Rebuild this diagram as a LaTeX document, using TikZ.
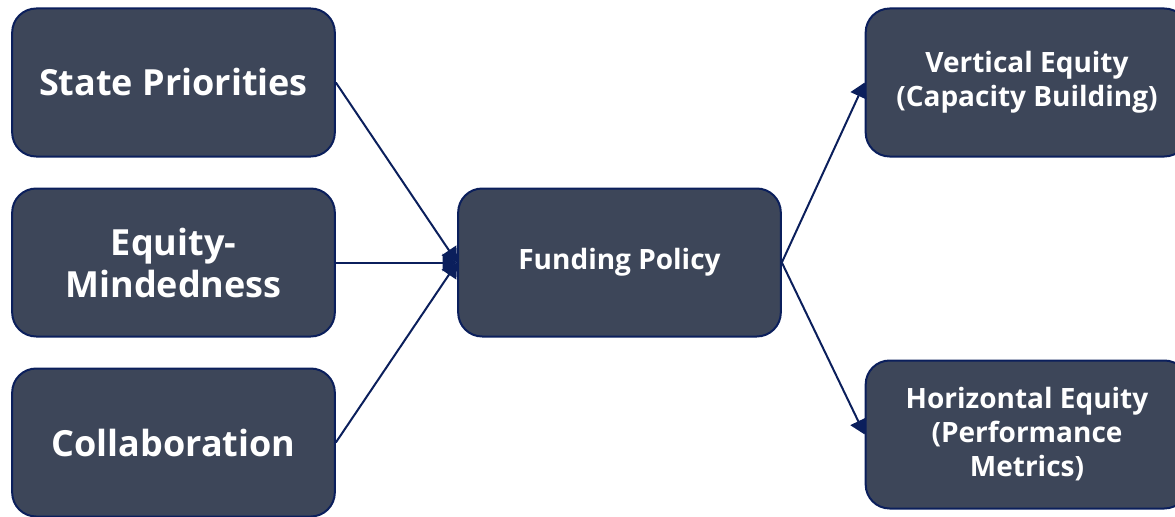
\documentclass[tikz,border=0pt]{standalone}
\usepackage{fontspec}
\setmainfont{Open Sans}
\usetikzlibrary{arrows.meta}
\definecolor{boxfill}{HTML}{3D4659}
\definecolor{navy}{HTML}{0B1F5C}
\tikzset{
	box/.style={draw=navy, line width=1.5pt, fill=boxfill, rounded corners=18pt,
		minimum width=242pt, minimum height=111pt, align=center, text=white, font=\bfseries},
	bigtext/.style={font=\fontsize{27}{31.5}\selectfont\bfseries},
	smalltext/.style={font=\fontsize{21}{25.5}\selectfont\bfseries},
	link/.style={draw=navy, line width=1.5pt, -{Triangle[length=11pt,width=13pt]}},
}
\begin{document}
\begin{tikzpicture}[x=0.75pt,y=-0.75pt]
			\useasboundingbox (0,0) rectangle (1175,517);
			\clip (0,0) rectangle (1175,517);
			
			\node[box,bigtext] (state) at (173.5,82.5) {State Priorities};
			\node[box,bigtext] (mind) at (173.5,262.5) {Equity-\\Mindedness};
			\node[box,bigtext] (collab) at (173.5,442.5) {Collaboration};
			\node[box,smalltext] (fund) at (619.5,262.5) {Funding Policy};
			\node[box,smalltext] (vert) at (1027,82.5) {Vertical Equity\\(Capacity Building)};
			\node[box,smalltext] (horiz) at (1027,434.5) {Horizontal Equity\\(Performance\\Metrics)};
			
			\draw[link] (state.east) -- (fund.west);
			\draw[link] (mind.east) -- (fund.west);
			\draw[link] (collab.east) -- (fund.west);
			\draw[link] (fund.east) -- (vert.west);
			\draw[link] (fund.east) -- (horiz.west);
			\end{tikzpicture}
\end{document}
